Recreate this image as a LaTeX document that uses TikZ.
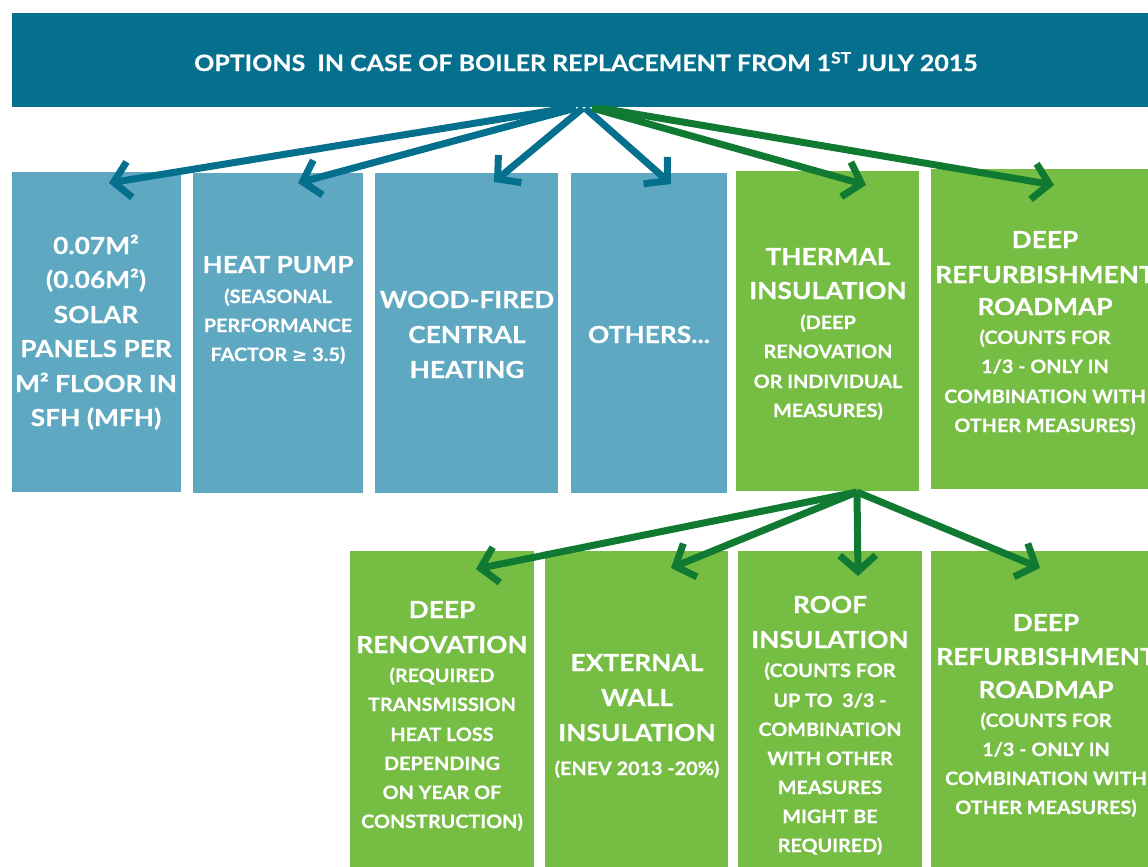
\documentclass[tikz,border=0pt]{standalone}
\usepackage{fontspec}
\setmainfont{Lato}
\newfontfamily\bigfont{Lato}[FakeStretch=1.12, FakeBold=0.4]
\newfontfamily\smfont{Lato}[FakeStretch=1.07, FakeBold=0.4]
\newfontfamily\ttlfont{Lato}[FakeStretch=1.11, FakeBold=0.4]
\newfontfamily\symf{DejaVu Sans}
\usetikzlibrary{arrows.meta}
\definecolor{titleblue}{HTML}{05708E}
\definecolor{lightblue}{HTML}{5EA8C1}
\definecolor{lgreen}{HTML}{76BD44}
\definecolor{dgreen}{HTML}{107A32}
\tikzset{
 box/.style={inner sep=0, outer sep=0, anchor=north west},
 bl/.style={box, fill=lightblue},
 gr/.style={box, fill=lgreen},
 big/.style={anchor=base, text=white, font=\bigfont\fontsize{23.5}{23.5}\selectfont\bfseries, inner sep=0},
 sm/.style={anchor=base, text=white, font=\smfont\fontsize{18.5}{18.5}\selectfont\bfseries, inner sep=0},
 ttl/.style={anchor=base, text=white, font=\ttlfont\fontsize{22.5}{22.5}\selectfont\bfseries, inner sep=0},
 barrow/.style={draw=titleblue, line width=7, -{Straight Barb[length=16pt,width=36pt]}},
 garrow/.style={draw=dgreen, line width=7, -{Straight Barb[length=16pt,width=36pt]}}
}
\begin{document}
\begin{tikzpicture}[x=1pt,y=-1pt]
\useasboundingbox (0,0) rectangle (1148,867);
\clip (0,0) rectangle (1148,867);
% title
\node[box, fill=titleblue, minimum width=1150, minimum height=94] (title) at (12,13) {};
\node[ttl] (titletext) at (586,71) {OPTIONS\ \ IN CASE OF BOILER REPLACEMENT FROM 1\textsuperscript{ST} JULY 2015};
% top row boxes
\node[bl, minimum width=169, minimum height=320] (b1) at (12,172) {};
\node[bl, minimum width=170, minimum height=320] (b2) at (193,173) {};
\node[bl, minimum width=183, minimum height=320] (b3) at (375,173) {};
\node[bl, minimum width=156, minimum height=320] (b4) at (571,173) {};
\node[gr, minimum width=183, minimum height=320] (b5) at (736,171) {};
\node[gr, minimum width=230, minimum height=320] (b6) at (931,169) {};
% bottom row boxes
\node[gr, minimum width=184, minimum height=330] (b7) at (350,551) {};
\node[gr, minimum width=183, minimum height=330] (b8) at (545,551) {};
\node[gr, minimum width=184, minimum height=330] (b9) at (738,551) {};
\node[gr, minimum width=230, minimum height=330] (b10) at (931,551) {};
% texts box 1
\node[big] (t1a) at (96,254) {0.07M²};
\node[big] (t1b) at (96,288) {(0.06M²)};
\node[big] (t1c) at (96,323) {SOLAR};
\node[big] (t1d) at (96,357) {PANELS PER};
\node[big] (t1e) at (96,392) {M² FLOOR IN};
\node[big] (t1f) at (96,426) {SFH (MFH)};
% box 2
\node[big] (t2a) at (278,273) {HEAT PUMP};
\node[sm] (t2b) at (278,303) {(SEASONAL};
\node[sm] (t2c) at (278,332) {PERFORMANCE};
\node[sm] (t2d) at (278,361) {FACTOR {\symf\bfseries ≥} 3.5)};
% box 3
\node[big] (t3a) at (467,308) {WOOD-FIRED};
\node[big] (t3b) at (467,343) {CENTRAL};
\node[big] (t3c) at (467,378) {HEATING};
% box 4
\node[big] (t4a) at (649,343) {OTHERS...};
% box 5
\node[big] (t5a) at (828,265) {THERMAL};
\node[big] (t5b) at (828,299) {INSULATION};
\node[sm] (t5c) at (828,329) {(DEEP};
\node[sm] (t5d) at (828,358) {RENOVATION};
\node[sm] (t5e) at (828,388) {OR INDIVIDUAL};
\node[sm] (t5f) at (828,417) {MEASURES)};
% box 6
\node[big] (t6a) at (1045,248) {DEEP};
\node[big] (t6b) at (1045,283) {REFURBISHMENT};
\node[big] (t6c) at (1045,315) {ROADMAP};
\node[sm] (t6d) at (1045,344) {(COUNTS FOR};
\node[sm] (t6e) at (1045,373) {1/3 - ONLY IN};
\node[sm] (t6f) at (1045,403) {COMBINATION WITH};
\node[sm] (t6g) at (1045,432) {OTHER MEASURES)};
% box 7
\node[big] (t7a) at (442,618) {DEEP};
\node[big] (t7b) at (442,653) {RENOVATION};
\node[sm] (t7c) at (442,682) {(REQUIRED};
\node[sm] (t7d) at (442,711) {TRANSMISSION};
\node[sm] (t7e) at (442,741) {HEAT LOSS};
\node[sm] (t7f) at (442,770) {DEPENDING};
\node[sm] (t7g) at (442,799) {ON YEAR OF};
\node[sm] (t7h) at (442,828) {CONSTRUCTION)};
% box 8
\node[big] (t8a) at (637,671) {EXTERNAL};
\node[big] (t8b) at (637,706) {WALL};
\node[big] (t8c) at (637,741) {INSULATION};
\node[sm] (t8d) at (637,775) {(ENEV 2013 -20\%)};
% box 9
\node[big] (t9a) at (830,613) {ROOF};
\node[big] (t9b) at (830,648) {INSULATION};
\node[sm] (t9c) at (830,677) {(COUNTS FOR};
\node[sm] (t9d) at (830,707) {UP TO\ \ 3/3 -};
\node[sm] (t9e) at (830,736) {COMBINATION};
\node[sm] (t9f) at (830,765) {WITH OTHER};
\node[sm] (t9g) at (830,794) {MEASURES};
\node[sm] (t9h) at (830,823) {MIGHT BE};
\node[sm] (t9i) at (830,852) {REQUIRED)};
% box 10
\node[big] (t10a) at (1046,631) {DEEP};
\node[big] (t10b) at (1046,665) {REFURBISHMENT};
\node[big] (t10c) at (1046,698) {ROADMAP};
\node[sm] (t10d) at (1046,727) {(COUNTS FOR};
\node[sm] (t10e) at (1046,756) {1/3 - ONLY IN};
\node[sm] (t10f) at (1046,785) {COMBINATION WITH};
\node[sm] (t10g) at (1046,814) {OTHER MEASURES)};
% arrow anchors
\coordinate (o1) at (568,108);
\coordinate (o2) at (576,108);
\coordinate (o3) at (583,108);
\coordinate (o4) at (585,108);
\coordinate (o5) at (592,108);
\coordinate (o6) at (600,108);
\coordinate (e1) at (109,183);
\coordinate (e2) at (298,183);
\coordinate (e3) at (494,182);
\coordinate (e4) at (671,184);
\coordinate (e5) at (866,185);
\coordinate (e6) at (1054,185);
\coordinate (g0) at (857,492);
\coordinate (f7) at (476,569);
\coordinate (f8) at (671,568);
\coordinate (f9) at (858,576);
\coordinate (f10) at (1040,568);
\draw[barrow] (o1) -- (e1);
\draw[barrow] (o2) -- (e2);
\draw[barrow] (o3) -- (e3);
\draw[barrow] (o4) -- (e4);
\draw[garrow] (o5) -- (e5);
\draw[garrow] (o6) -- (e6);
\draw[garrow] (g0) -- (f7);
\draw[garrow] (g0) -- (f8);
\draw[garrow] (g0) -- (f9);
\draw[garrow] (g0) -- (f10);
\end{tikzpicture}
\end{document}
